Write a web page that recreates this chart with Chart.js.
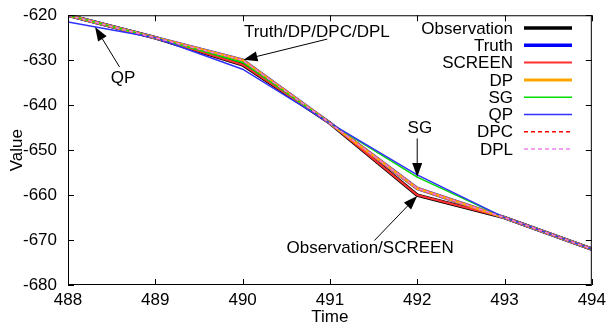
<!DOCTYPE html>
<html>
<head>
<meta charset="utf-8">
<script src="https://cdn.jsdelivr.net/npm/chart.js@4"></script>
<style>
  html, body { margin: 0; padding: 0; background: #fff; }
  #wrap { width: 611px; height: 326px; }
</style>
</head>
<body>
<div id="wrap"><canvas id="c" width="611" height="326"></canvas></div>
<script>
// data
const times = [488, 489, 490, 491, 492, 493, 494];
const observation = [-620, -625, -631, -644, -660, -665, -672];
const truth = [-620, -625, -630, -644, -658.5, -665, -672];
const screen = [-620, -625, -631, -644, -660, -665, -672];
const dp = [-620, -625, -630, -644, -658.5, -665, -672];
const sg = [-620, -625, -630.5, -644, -656, -665, -672];
const qp = [-621.5, -625, -632, -644, -655.5, -665, -672];
const dpc = [-620, -625, -630, -644, -658.5, -665, -672];
const dpl = [-620, -625, -630, -644, -658.5, -665, -672];

const xTicks = [488, 489, 490, 491, 492, 493, 494];
const yTicks = [-620, -630, -640, -650, -660, -670, -680];

// annotations: label + arrow in data coords
const notes = [
  { text: 'QP', at: [488.63, -634.1], from: [488.59, -631.5], to: [488.31, -622.6] },
  { text: 'Truth/DP/DPC/DPL', at: [490.85, -623.8], from: [490.97, -625.3], to: [490.01, -629.9] },
  { text: 'SG', at: [492.03, -645.1], from: [492.0, -647.4], to: [492.0, -656] },
  { text: 'Observation/SCREEN', at: [491.46, -671.8], from: [491.51, -670.1], to: [492.0, -660.2] }
];

const FONT = '"Liberation Sans", Arial, sans-serif';
const pts = arr => arr.map((v, i) => ({ x: times[i], y: v }));

const series = [
  { label: 'Observation', data: observation, color: '#000000', width: 3.5, dash: [] },
  { label: 'Truth', data: truth, color: '#0000ff', width: 3.5, dash: [] },
  { label: 'SCREEN', data: screen, color: '#ff3030', width: 2, dash: [] },
  { label: 'DP', data: dp, color: '#ffa500', width: 3, dash: [] },
  { label: 'SG', data: sg, color: '#00dd00', width: 1.5, dash: [] },
  { label: 'QP', data: qp, color: '#3030ff', width: 1.5, dash: [] },
  { label: 'DPC', data: dpc, color: '#ff0000', width: 1.5, dash: [4, 3] },
  { label: 'DPL', data: dpl, color: '#ee82ee', width: 1.5, dash: [4, 3] }
];

// box, inward ticks, arrows and legend, gnuplot style
const gnuplotBits = {
  id: 'gnuplotBits',
  afterDatasetsDraw(chart) {
    const c = chart.ctx, a = chart.chartArea;
    const xs = chart.scales.x, ys = chart.scales.y;
    c.save();
    c.strokeStyle = '#000';
    c.lineWidth = 1;
    c.strokeRect(a.left + 0.5, a.top + 0.5, a.right - a.left - 1, a.bottom - a.top - 1);
    c.beginPath();
    xTicks.forEach(t => {
      const px = Math.round(xs.getPixelForValue(t)) + 0.5;
      c.moveTo(px, a.bottom); c.lineTo(px, a.bottom - 6);
      c.moveTo(px, a.top); c.lineTo(px, a.top + 6);
    });
    yTicks.forEach(t => {
      const py = Math.round(ys.getPixelForValue(t)) + 0.5;
      c.moveTo(a.left, py); c.lineTo(a.left + 6, py);
      c.moveTo(a.right, py); c.lineTo(a.right - 6, py);
    });
    c.stroke();

    // arrows + labels
    c.font = '17px ' + FONT;
    c.fillStyle = '#000';
    c.textAlign = 'center';
    c.textBaseline = 'middle';
    notes.forEach(n => {
      const x0 = xs.getPixelForValue(n.from[0]), y0 = ys.getPixelForValue(n.from[1]);
      const x1 = xs.getPixelForValue(n.to[0]), y1 = ys.getPixelForValue(n.to[1]);
      const ang = Math.atan2(y1 - y0, x1 - x0);
      const L = 14, W = 5;
      const bx = x1 - L * Math.cos(ang), by = y1 - L * Math.sin(ang);
      c.beginPath();
      c.moveTo(x0, y0); c.lineTo(bx, by);
      c.stroke();
      c.beginPath();
      c.moveTo(x1, y1);
      c.lineTo(bx + W * Math.sin(ang), by - W * Math.cos(ang));
      c.lineTo(bx - W * Math.sin(ang), by + W * Math.cos(ang));
      c.closePath();
      c.fill();
      c.fillText(n.text, xs.getPixelForValue(n.at[0]), ys.getPixelForValue(n.at[1]));
    });

    // legend top right
    c.textAlign = 'right';
    const lx = 513, ly = 28;
    series.forEach((s, i) => {
      const y = ly + i * 17.3;
      c.fillStyle = '#000';
      c.fillText(s.label, lx, y + 1);
      c.strokeStyle = s.color;
      c.lineWidth = s.width;
      c.setLineDash(s.dash);
      c.beginPath();
      c.moveTo(lx + 11, y); c.lineTo(lx + 59, y);
      c.stroke();
      c.setLineDash([]);
    });
    c.restore();
  }
};

new Chart(document.getElementById('c'), {
  type: 'line',
  data: {
    datasets: series.map((s, i) => ({
      label: s.label,
      data: pts(s.data),
      borderColor: s.color,
      borderWidth: s.width,
      borderDash: s.dash,
      pointRadius: 0,
      tension: 0,
      fill: false,
      order: series.length - i
    }))
  },
  options: {
    responsive: false,
    animation: false,
    layout: { padding: { top: 11, right: 18, left: 0, bottom: 0 } },
    plugins: { legend: { display: false }, tooltip: { enabled: false } },
    scales: {
      x: {
        type: 'linear', min: 488, max: 494,
        afterFit: s => { s.height = 41; },
        afterBuildTicks: s => { s.ticks = xTicks.map(v => ({ value: v })); },
        grid: { display: false, drawTicks: false },
        border: { display: false },
        ticks: { color: '#000', font: { family: FONT, size: 17 }, padding: 5, maxRotation: 0 },
        title: { display: true, text: 'Time', color: '#000', font: { family: FONT, size: 17, lineHeight: 1 }, padding: { top: 0, bottom: 0 } }
      },
      y: {
        type: 'linear', min: -680, max: -620,
        afterFit: s => { s.width = 68; },
        afterBuildTicks: s => { s.ticks = yTicks.map(v => ({ value: v })); },
        grid: { display: false, drawTicks: false },
        border: { display: false },
        ticks: { color: '#000', font: { family: FONT, size: 17, lineHeight: 0.5 }, padding: 11 },
        title: { display: true, text: 'Value', color: '#000', font: { family: FONT, size: 17 }, padding: { top: 7, bottom: 0 } }
      }
    }
  },
  plugins: [gnuplotBits]
});
</script>
</body>
</html>
